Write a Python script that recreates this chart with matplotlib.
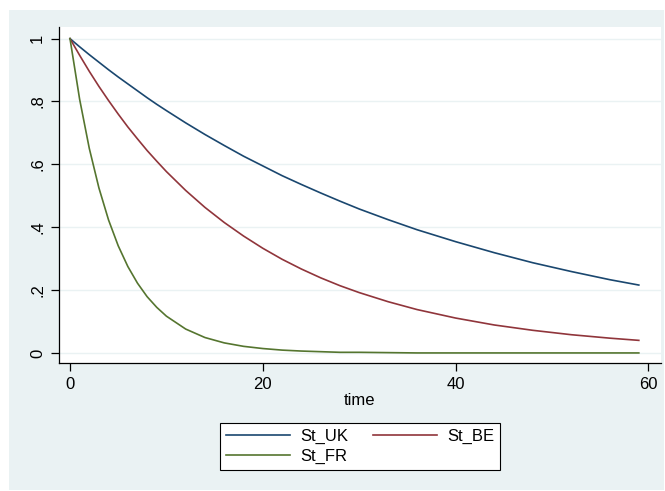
import matplotlib.pyplot as plt
from matplotlib.patches import Rectangle

plt.rcParams['font.family'] = ['Liberation Sans', 'DejaVu Sans']

# values
time = [0, 1, 2, 3, 4, 5, 6, 7, 8, 9, 10, 12, 14, 16, 18, 20, 22, 24, 26, 28,
        30, 33, 36, 40, 44, 48, 52, 56, 59]
st_uk = [1.000, 0.974, 0.949, 0.925, 0.901, 0.878, 0.856, 0.834, 0.812, 0.791,
         0.771, 0.732, 0.695, 0.660, 0.626, 0.595, 0.564, 0.536, 0.509, 0.483,
         0.458, 0.424, 0.392, 0.354, 0.319, 0.287, 0.259, 0.233, 0.216]
st_be = [1.000, 0.947, 0.896, 0.848, 0.803, 0.760, 0.719, 0.681, 0.644, 0.610,
         0.577, 0.517, 0.463, 0.415, 0.372, 0.333, 0.298, 0.267, 0.239, 0.214,
         0.192, 0.163, 0.138, 0.111, 0.089, 0.072, 0.058, 0.047, 0.040]
st_fr = [1.000, 0.807, 0.651, 0.525, 0.423, 0.341, 0.275, 0.222, 0.179, 0.145,
         0.117, 0.076, 0.049, 0.032, 0.021, 0.014, 0.009, 0.006, 0.004, 0.002,
         0.002, 0.001, 0.000, 0.000, 0.000, 0.000, 0.000, 0.000, 0.000]

yticks = [0, 0.2, 0.4, 0.6, 0.8, 1]
ytick_labels = ['0', '.2', '.4', '.6', '.8', '1']
xticks = [0, 20, 40, 60]

bg = '#EAF2F3'
fig = plt.figure(figsize=(6.65, 4.91), dpi=100)
fig.patches.append(Rectangle((9 / 665, 1 / 491), 655 / 665, 480 / 491,
                             transform=fig.transFigure, facecolor=bg,
                             edgecolor='none', zorder=-5))

ax = fig.add_axes([59 / 665, 128 / 491, 602 / 665, 336 / 491])
ax.set_facecolor('white')

ax.plot(time, st_uk, color='#1A476F', lw=1.2, label='St_UK')
ax.plot(time, st_be, color='#90353B', lw=1.2, label='St_BE')
ax.plot(time, st_fr, color='#55752F', lw=1.2, label='St_FR')

ax.set_xlim(-1.14, 61.3)
ax.set_ylim(-0.032, 1.037)
ax.set_yticks(yticks)
ax.set_yticklabels(ytick_labels, rotation=90, va='center')
ax.set_xticks(xticks)
ax.yaxis.grid(True, color=bg, lw=1.0)
ax.set_axisbelow(True)

for s in ['top', 'right']:
    ax.spines[s].set_visible(False)
for s in ['left', 'bottom']:
    ax.spines[s].set_color('black')
    ax.spines[s].set_linewidth(0.9)
ax.tick_params(axis='both', length=6, width=0.9, labelsize=12, pad=4)
ax.set_xlabel('time', fontsize=12, labelpad=1)

# legend order: St_UK, St_BE on first row; St_FR on second
h, l = ax.get_legend_handles_labels()
order = [0, 2, 1]
leg = fig.legend([h[i] for i in order], [l[i] for i in order], ncol=2,
                 loc='center', bbox_to_anchor=(360 / 665, 1 - 446.5 / 491),
                 fontsize=12, frameon=True, fancybox=False, handlelength=3.85,
                 columnspacing=1.5, borderpad=0.35, labelspacing=0.3,
                 handletextpad=0.6, framealpha=1)
leg.get_frame().set_edgecolor('black')
leg.get_frame().set_facecolor('white')
leg.get_frame().set_linewidth(0.8)

fig.savefig('out.png', dpi=100)
